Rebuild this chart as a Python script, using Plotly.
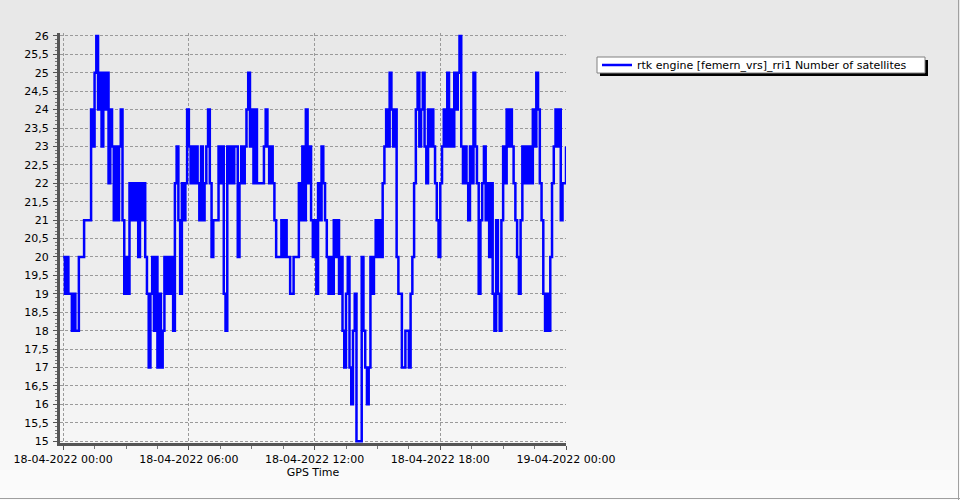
import pandas as pd
import plotly.graph_objects as go

# ---------------- data ----------------
START = "2022-04-18 00:00"
STEP = "5min"
SERIES_NAME = "rtk engine [femern_vrs]_rri1 Number of satellites"
satellites = [
    20, 19, 20, 19, 19, 18, 19, 18, 18, 20, 20, 20, 21, 21, 21, 21, 24, 23, 25, 26,
    24, 25, 23, 25, 24, 25, 22, 24, 23, 21, 23, 21, 23, 24, 21, 19, 20, 19, 22, 21,
    22, 21, 22, 20, 22, 21, 22, 20, 19, 17, 19, 20, 18, 20, 17, 19, 17, 18, 20, 19,
    20, 19, 20, 18, 22, 23, 21, 19, 22, 21, 22, 24, 23, 22, 23, 22, 23, 22, 21, 23,
    21, 22, 23, 24, 22, 20, 21, 21, 21, 23, 22, 23, 19, 18, 23, 22, 23, 22, 23, 23,
    20, 22, 23, 22, 23, 24, 25, 23, 24, 22, 24, 22, 22, 22, 22, 23, 24, 23, 22, 23,
    22, 21, 20, 20, 20, 21, 20, 21, 20, 20, 19, 19, 20, 20, 20, 22, 21, 23, 21, 24,
    22, 23, 21, 20, 21, 19, 22, 21, 23, 22, 21, 20, 19, 20, 19, 21, 20, 21, 19, 20,
    18, 17, 19, 20, 17, 16, 18, 19, 15, 15, 15, 20, 18, 17, 16, 17, 20, 19, 20, 21,
    20, 21, 20, 22, 23, 24, 23, 25, 24, 23, 24, 20, 19, 19, 17, 17, 18, 18, 17, 19,
    20, 22, 24, 25, 23, 24, 25, 23, 22, 24, 23, 24, 23, 22, 21, 20, 22, 23, 24, 23,
    25, 23, 24, 23, 25, 24, 25, 26, 23, 22, 23, 22, 21, 23, 22, 25, 23, 22, 19, 21,
    22, 23, 21, 22, 20, 22, 19, 18, 21, 19, 18, 21, 23, 22, 24, 23, 24, 23, 22, 21,
    20, 19, 21, 23, 22, 23, 22, 23, 22, 24, 23, 25, 24, 22, 21, 19, 18, 19, 18, 20,
    22, 23, 24, 23, 24, 21, 22, 22, 23,
]
times = pd.date_range(START, periods=len(satellites), freq=STEP)

X_RANGE = ["2022-04-17 23:51", "2022-04-19 00:00"]
Y_RANGE = [14.95, 26.08]
X_TICKS = pd.date_range("2022-04-18 00:00", "2022-04-19 00:00", freq="6h")
X_TITLE = "GPS Time"

# ---------------- layout helpers (pixel -> paper) ----------------
W, H = 960, 500
ML, MR, MT, MB = 60, 394, 33, 57
PW, PH = W - ML - MR, H - MT - MB


def px(x):
    return (x - ML) / PW


def py(y):
    return (H - MB - y) / PH


def grey(y):
    stops = [(0, 232), (200, 234), (300, 238), (400, 243), (450, 247), (500, 252)]
    for (y0, c0), (y1, c1) in zip(stops[:-1], stops[1:]):
        if y0 <= y <= y1:
            c = round(c0 + (c1 - c0) * (y - y0) / (y1 - y0))
            return f"rgb({c},{c},{c})"
    return "rgb(252,252,252)"


shapes = []
band = 10
for y in range(0, H, band):
    shapes.append(dict(type="rect", xref="paper", yref="paper", layer="below",
                       x0=px(0), x1=px(W), y0=py(y), y1=py(y + band + 1),
                       line=dict(width=0), fillcolor=grey(y + band / 2)))
# outer border (right & bottom)
shapes.append(dict(type="line", xref="paper", yref="paper", layer="above",
                   x0=px(W - 1.5), x1=px(W - 1.5), y0=py(0), y1=py(H),
                   line=dict(color="#a0a0a0", width=1)))
shapes.append(dict(type="line", xref="paper", yref="paper", layer="above",
                   x0=px(0), x1=px(W), y0=py(H - 1.5), y1=py(H - 1.5),
                   line=dict(color="#a0a0a0", width=1)))
# legend frame: shadow + white box
LEG_L, LEG_R, LEG_T, LEG_B = 597, 925, 57, 73
shapes.append(dict(type="rect", xref="paper", yref="paper", layer="above",
                   x0=px(LEG_L + 3), x1=px(LEG_R + 3), y0=py(LEG_T + 3), y1=py(LEG_B + 3),
                   line=dict(width=0), fillcolor="#000000"))
shapes.append(dict(type="rect", xref="paper", yref="paper", layer="above",
                   x0=px(LEG_L), x1=px(LEG_R), y0=py(LEG_T), y1=py(LEG_B),
                   line=dict(width=1, color="#808080"), fillcolor="#ffffff"))

fig = go.Figure()
fig.add_trace(go.Scatter(
    x=times, y=satellites, mode="lines", name=SERIES_NAME,
    line=dict(color="#0000ff", width=2.5, shape="hv"),
))

FONT = "DejaVu Sans"
fig.update_layout(
    width=W, height=H,
    margin=dict(l=ML, r=MR, t=MT, b=MB, pad=0, autoexpand=False),
    paper_bgcolor="rgb(232,232,232)",
    plot_bgcolor="rgba(0,0,0,0)",
    separators=",.",
    font=dict(family=FONT, size=11, color="#000000"),
    showlegend=True,
    legend=dict(xref="paper", yref="paper", x=px(LEG_L), y=py((LEG_T + LEG_B) / 2),
                xanchor="left", yanchor="middle", bgcolor="rgba(0,0,0,0)",
                borderwidth=0,
                font=dict(family=FONT, size=11, color="#000000")),
    shapes=shapes,
)
fig.update_xaxes(
    range=X_RANGE, tickvals=X_TICKS, tickformat="%d-%m-%Y %H:%M",
    showgrid=True, gridcolor="#9a9a9a", griddash="3px,2px", gridwidth=1,
    showline=True, linecolor="#555555", linewidth=3,
    ticks="outside", ticklen=4, tickcolor="#555555",
    minor=dict(dtick=1.5 * 3600 * 1000, tick0="2022-04-18", ticks="outside",
               ticklen=3, tickcolor="#777777", showgrid=False),
    title=dict(text=X_TITLE, font=dict(family=FONT, size=11), standoff=4),
    zeroline=False, tickfont=dict(family=FONT, size=11), automargin=False,
)
fig.update_yaxes(
    range=Y_RANGE, dtick=0.5, tick0=15,
    showgrid=True, gridcolor="#9a9a9a", griddash="3px,2px", gridwidth=1,
    showline=True, linecolor="#555555", linewidth=3,
    ticks="outside", ticklen=4, tickcolor="#555555",
    minor=dict(dtick=0.1, ticks="outside", ticklen=2, tickcolor="#777777", showgrid=False),
    zeroline=False, tickfont=dict(family=FONT, size=11), automargin=False,
    ticklabelstandoff=2,
)

fig.write_html("out.html", config={"displayModeBar": False},
               post_script="document.body.style.margin='0';document.body.style.overflow='hidden';")
